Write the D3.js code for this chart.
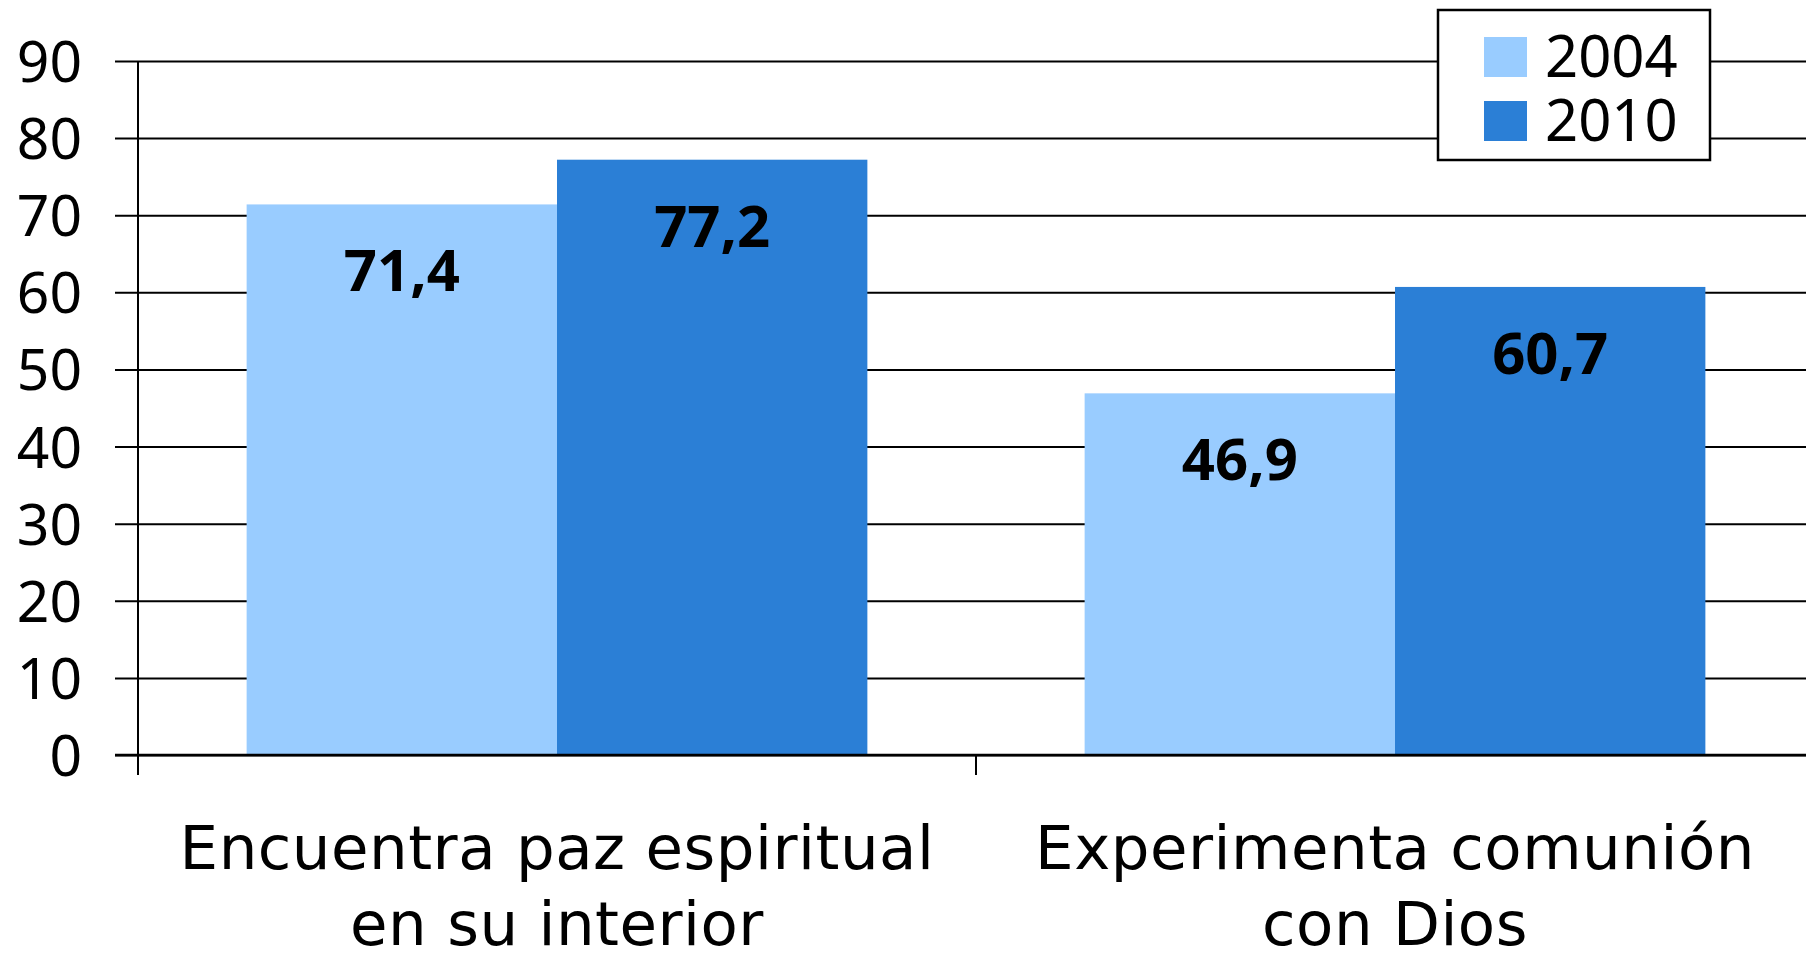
<!DOCTYPE html>
<html>
<head>
<meta charset="utf-8">
<script src="https://cdn.jsdelivr.net/npm/d3@7"></script>
<style>
	body { margin: 0; background: #fff; }
	svg { display: block; }
</style>
</head>
<body>
<svg id="canvas" width="1806" height="953"></svg>
<script>
// chart data
const categories = [["Encuentra paz espiritual", "en su interior"], ["Experimenta comunión", "con Dios"]];
const series = ["2004", "2010"];
const values2004 = [71.4, 46.9];
const values2010 = [77.2, 60.7];
const yTicks = [0, 10, 20, 30, 40, 50, 60, 70, 80, 90];
const colors = ["#99ccff", "#2b7fd6"];

const plotLeft = 138, plotRight = 1814, plotTop = 61, plotBottom = 755;

const svg = d3.select("#canvas");

const rows = categories.map((c, i) => ({
	key: c.join(" "),
	lines: c,
	vals: [values2004[i], values2010[i]]
}));

const y = d3.scaleLinear().domain([0, 90]).range([plotBottom, plotTop]);
const x0 = d3.scaleBand().domain(rows.map(d => d.key)).range([plotLeft, plotRight]);
const x1 = d3.scaleBand().domain(series).range([0, x0.bandwidth()]).paddingOuter(0.35);
const color = d3.scaleOrdinal().domain(series).range(colors);

// gridlines + y labels
const yAxis = svg.append("g")
	.attr("transform", `translate(${plotLeft},0)`)
	.call(d3.axisLeft(y).tickValues(yTicks).tickSizeInner(-(plotRight - plotLeft)).tickSizeOuter(0).tickPadding(56));
yAxis.select(".domain").remove();
yAxis.selectAll("line")
	.attr("x1", -23)
	.attr("stroke", "#000")
	.attr("stroke-width", 2);
yAxis.selectAll("text")
	.attr("dy", "0.36em")
	.attr("font-family", "'Noto Sans', sans-serif")
	.attr("font-size", 57)
	.attr("fill", "#000");

// bars
const group = svg.append("g")
	.selectAll("g")
	.data(rows)
	.join("g")
	.attr("transform", d => `translate(${x0(d.key)},0)`);

group.selectAll("rect")
	.data(d => d.vals.map((v, i) => ({ s: series[i], v: v })))
	.join("rect")
	.attr("x", d => x1(d.s))
	.attr("y", d => y(d.v))
	.attr("width", x1.bandwidth())
	.attr("height", d => y(0) - y(d.v))
	.attr("fill", d => color(d.s));

// value labels
group.selectAll("text.value")
	.data(d => d.vals.map((v, i) => ({ s: series[i], v: v })))
	.join("text")
	.attr("class", "value")
	.attr("x", d => x1(d.s) + x1.bandwidth() / 2)
	.attr("y", d => y(d.v) + 87)
	.attr("text-anchor", "middle")
	.attr("font-family", "'Noto Sans', sans-serif")
	.attr("font-weight", "bold")
	.attr("font-size", 58)
	.text(d => d3.format(".1f")(d.v).replace(".", ","));

// y axis line
svg.append("line")
	.attr("x1", plotLeft).attr("x2", plotLeft)
	.attr("y1", plotTop).attr("y2", plotBottom + 20)
	.attr("stroke", "#000").attr("stroke-width", 2);

// x axis line and ticks
svg.append("line")
	.attr("x1", plotLeft - 23).attr("x2", plotRight)
	.attr("y1", plotBottom).attr("y2", plotBottom)
	.attr("stroke", "#000").attr("stroke-width", 2.5);
svg.append("g")
	.selectAll("line")
	.data(rows.map(d => x0(d.key)).concat([plotRight]))
	.join("line")
	.attr("x1", d => d).attr("x2", d => d)
	.attr("y1", plotBottom).attr("y2", plotBottom + 20)
	.attr("stroke", "#000").attr("stroke-width", 2);

// category labels
const catLabel = svg.append("g")
	.selectAll("text")
	.data(rows)
	.join("text")
	.attr("text-anchor", "middle")
	.attr("font-family", "'DejaVu Sans', sans-serif")
	.attr("font-size", 61)
	.attr("letter-spacing", 0.5)
	.attr("fill", "#000");
catLabel.selectAll("tspan")
	.data(d => d.lines.map(l => ({ l: l, x: x0(d.key) + x0.bandwidth() / 2 })))
	.join("tspan")
	.attr("x", d => d.x)
	.attr("y", (d, i) => 869 + i * 76)
	.text(d => d.l);

// legend
const legend = svg.append("g").attr("transform", "translate(1438,10)");
legend.append("rect")
	.attr("width", 272).attr("height", 150)
	.attr("fill", "#fff").attr("stroke", "#000").attr("stroke-width", 2.5);
const item = legend.selectAll("g")
	.data(series)
	.join("g")
	.attr("transform", (d, i) => `translate(46,${27 + i * 64})`);
item.append("rect")
	.attr("width", 43).attr("height", 40)
	.attr("fill", d => color(d));
item.append("text")
	.attr("x", 61).attr("y", 40)
	.attr("font-family", "'Noto Sans', sans-serif")
	.attr("font-size", 58)
	.text(d => d);
</script>
</body>
</html>
